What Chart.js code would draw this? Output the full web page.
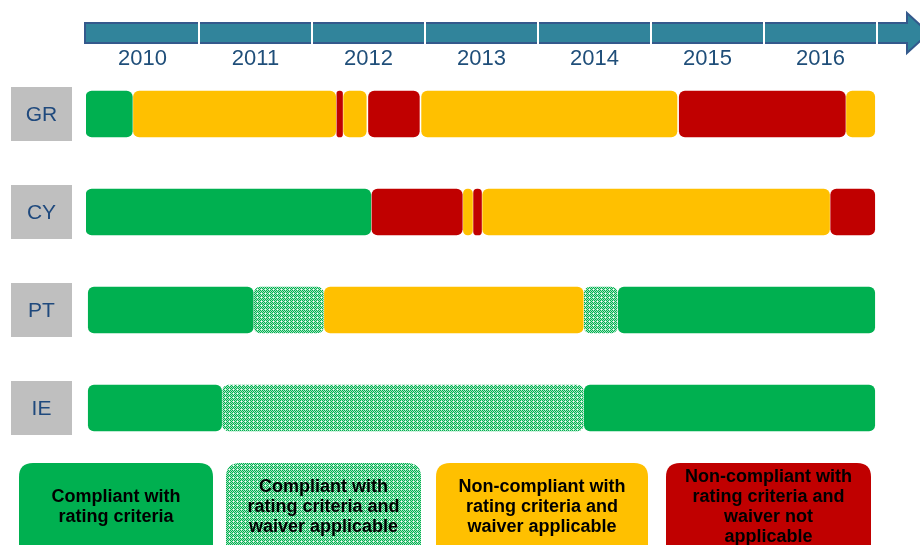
<!DOCTYPE html>
<html>
<head>
<meta charset="utf-8">
<script src="https://cdn.jsdelivr.net/npm/chart.js@4"></script>
<style>
  body { margin: 0; background: #fff; }
  canvas { display: block; }
</style>
</head>
<body>
<canvas id="timeline" width="920" height="545"></canvas>
<script>
const countries = ["GR", "CY", "PT", "IE"];
const years = [2010, 2011, 2012, 2013, 2014, 2015, 2016];

// status index: 0 compliant, 1 compliant + waiver, 2 non-compliant + waiver, 3 non-compliant, no waiver
const statusNames = [
    "Compliant with rating criteria",
    "Compliant with rating criteria and waiver applicable",
    "Non-compliant with rating criteria and waiver applicable",
    "Non-compliant with rating criteria and waiver not applicable"
];
const legendLines = [
    ["Compliant with", "rating criteria"],
    ["Compliant with", "rating criteria and", "waiver applicable"],
    ["Non-compliant with", "rating criteria and", "waiver applicable"],
    ["Non-compliant with", "rating criteria and", "waiver not", "applicable"]
];

// [start, end, status], time in fractional years
const grPeriods = [[2010.00, 2010.41, 0], [2010.42, 2012.21, 2], [2012.22, 2012.27, 3], [2012.28, 2012.48, 2],
    [2012.50, 2012.95, 3], [2012.97, 2015.23, 2], [2015.25, 2016.72, 3], [2016.73, 2016.98, 2]];
const cyPeriods = [[2010.00, 2012.52, 0], [2012.53, 2013.33, 3], [2013.34, 2013.42, 2], [2013.43, 2013.50, 3],
    [2013.51, 2016.58, 2], [2016.59, 2016.98, 3]];
const ptPeriods = [[2010.02, 2011.48, 0], [2011.49, 2012.10, 1], [2012.11, 2014.40, 2], [2014.41, 2014.70, 1],
    [2014.71, 2016.98, 0]];
const iePeriods = [[2010.02, 2011.20, 0], [2011.21, 2014.40, 1], [2014.41, 2016.98, 0]];

const periodsByCountry = [grPeriods, cyPeriods, ptPeriods, iePeriods];

const FONT = "Arial, 'Liberation Sans', sans-serif";
const GREEN = "#00b050", YELLOW = "#ffc000", RED = "#c00000";

// fine dotted pattern for the "waiver applicable" green
function makeDots() {
    const tile = document.createElement("canvas");
    tile.width = 4;
    tile.height = 4;
    const t = tile.getContext("2d");
    t.fillStyle = "#a8e6c2";
    t.fillRect(0, 0, 4, 4);
    t.fillStyle = GREEN;
    for (let y = 0; y < 4; y++) {
        for (let x = 0; x < 4; x++) {
            if ((x + y) % 2 === 0) t.fillRect(x, y, 1, 1);
        }
    }
    t.fillStyle = "#ffffff";
    t.fillRect(1, 1, 1, 1);
    return t.createPattern(tile, "repeat");
}
const dots = makeDots();
const fills = [GREEN, dots, YELLOW, RED];

const datasets = statusNames.map((name, s) => ({
    label: name,
    data: [],
    backgroundColor: fills[s],
    borderRadius: 6,
    borderSkipped: false,
    barThickness: 46,
    grouped: false
}));
periodsByCountry.forEach((periods, c) => {
    periods.forEach(p => {
        datasets[p[2]].data.push({ y: countries[c], x: [p[0], p[1]] });
    });
});

// legend box horizontal extents
const legendBoxes = [[19, 213], [226, 421], [436, 648], [666, 871]];

function roundRect(ctx, x, y, w, h, r) {
    ctx.beginPath();
    ctx.moveTo(x + r, y);
    ctx.lineTo(x + w - r, y);
    ctx.quadraticCurveTo(x + w, y, x + w, y + r);
    ctx.lineTo(x + w, y + h - r);
    ctx.quadraticCurveTo(x + w, y + h, x + w - r, y + h);
    ctx.lineTo(x + r, y + h);
    ctx.quadraticCurveTo(x, y + h, x, y + h - r);
    ctx.lineTo(x, y + r);
    ctx.quadraticCurveTo(x, y, x + r, y);
    ctx.closePath();
}

const decorPlugin = {
    id: "decor",
    beforeDraw(chart) {
        const ctx = chart.ctx;
        const xs = chart.scales.x;
        const ys = chart.scales.y;
        ctx.save();

        // timeline arrow
        const endX = xs.getPixelForValue(years[years.length - 1] + 1);
        ctx.fillStyle = "#31849b";
        ctx.strokeStyle = "#34598c";
        ctx.lineWidth = 2;
        ctx.fillRect(85, 23, 823, 20);
        ctx.strokeRect(85, 23, 823, 20);
        ctx.beginPath();
        ctx.moveTo(907, 13);
        ctx.lineTo(929, 33);
        ctx.lineTo(907, 53);
        ctx.closePath();
        ctx.fill();
        ctx.stroke();
        ctx.fillRect(903, 24, 8, 18);

        ctx.strokeStyle = "#ffffff";
        ctx.lineWidth = 2;
        years.slice(1).concat([years[years.length - 1] + 1]).forEach(yr => {
            const px = Math.round(xs.getPixelForValue(yr));
            ctx.beginPath();
            ctx.moveTo(px, 22);
            ctx.lineTo(px, 44);
            ctx.stroke();
        });

        // year labels
        ctx.fillStyle = "#1f4e79";
        ctx.font = "22px " + FONT;
        ctx.textAlign = "center";
        ctx.textBaseline = "middle";
        years.forEach(yr => {
            ctx.fillText(String(yr), xs.getPixelForValue(yr + 0.5), 59);
        });

        // country label boxes
        countries.forEach((c, i) => {
            const cy = ys.getPixelForValue(i);
            ctx.fillStyle = "#bfbfbf";
            ctx.fillRect(11, cy - 27, 61, 54);
            ctx.fillStyle = "#1f497d";
            ctx.font = "21px " + FONT;
            ctx.fillText(c, 41.5, cy + 1);
        });
        ctx.restore();
    },
    afterDraw(chart) {
        const ctx = chart.ctx;
        ctx.save();
        legendBoxes.forEach((b, i) => {
            roundRect(ctx, b[0], 463, b[1] - b[0], 100, 14);
            ctx.fillStyle = fills[i];
            ctx.fill();
            const lines = legendLines[i];
            ctx.fillStyle = "#000000";
            ctx.font = "bold 18px " + FONT;
            ctx.textAlign = "center";
            ctx.textBaseline = "middle";
            const cx = (b[0] + b[1]) / 2;
            const top = 507 - (lines.length - 1) * 10;
            lines.forEach((ln, k) => ctx.fillText(ln, cx, top + k * 20));
        });
        ctx.restore();
    }
};

new Chart(document.getElementById("timeline"), {
    type: "bar",
    data: { labels: countries, datasets: datasets },
    options: {
        indexAxis: "y",
        responsive: false,
        animation: false,
        layout: { padding: { left: 0, right: 43, top: 0, bottom: 88 } },
        scales: {
            x: {
                type: "linear",
                position: "top",
                min: years[0],
                max: years[years.length - 1] + 1,
                grid: { display: false },
                border: { display: false },
                ticks: { display: false },
                afterFit: s => { s.height = 65; }
            },
            y: {
                type: "category",
                grid: { display: false },
                border: { display: false },
                ticks: { display: false },
                afterFit: s => { s.width = 86; }
            }
        },
        plugins: {
            legend: { display: false },
            tooltip: { enabled: true }
        }
    },
    plugins: [decorPlugin]
});
</script>
</body>
</html>
